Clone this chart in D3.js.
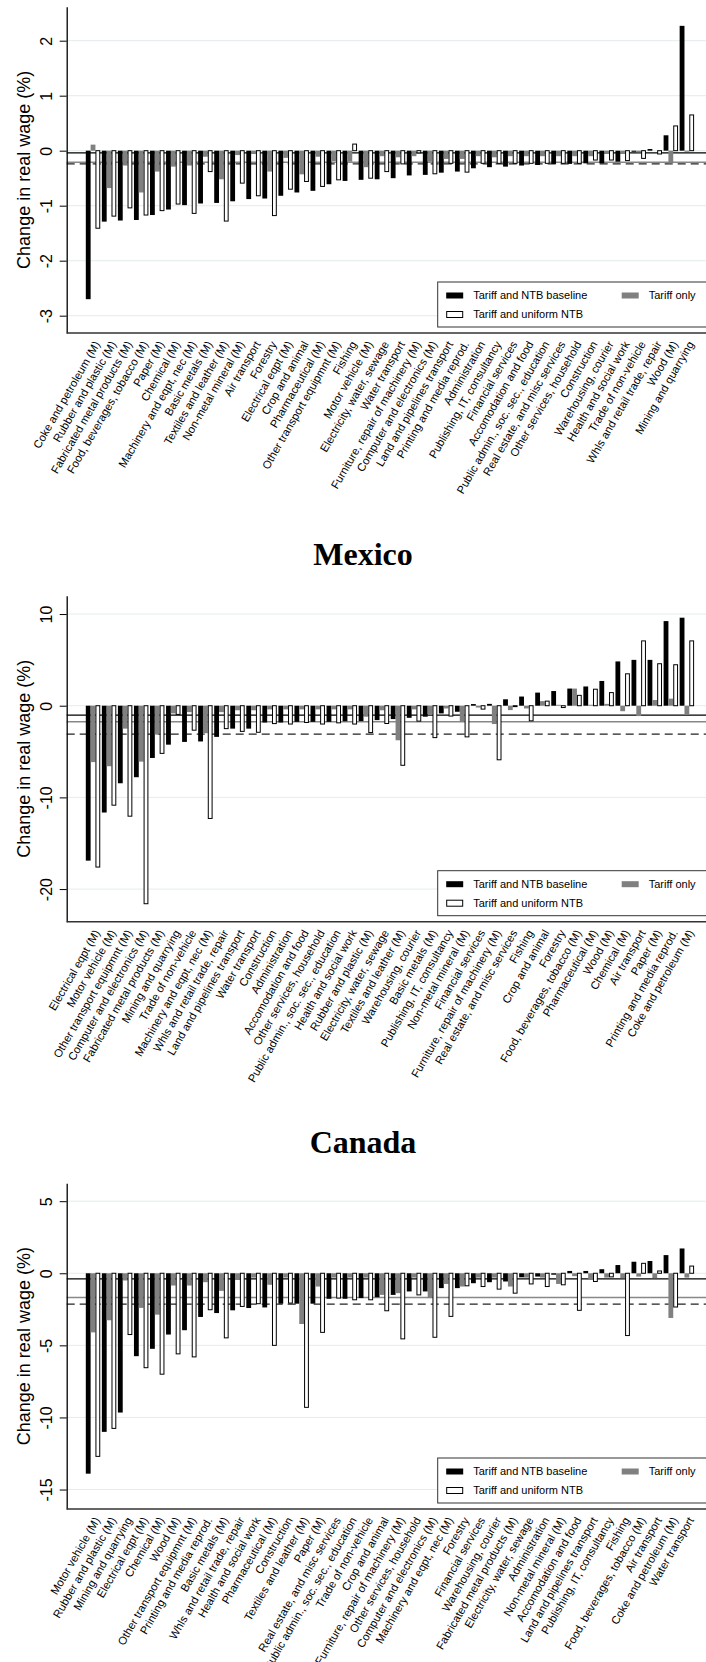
<!DOCTYPE html>
<html>
<head>
<meta charset="utf-8">
<script src="https://cdnjs.cloudflare.com/ajax/libs/d3/7.8.5/d3.min.js"></script>
<style>
  body { margin: 0; background: #fff; }
  text { font-family: "Liberation Sans", Arial, sans-serif; fill: #000; }
</style>
</head>
<body>
<div id="chart"></div>
<script>
// Panel 1 (top, title cut off)
var cats1 = ["Coke and petroleum (M)", "Rubber and plastic (M)", "Fabricated metal products (M)",
  "Food, beverages, tobacco (M)", "Paper (M)", "Chemical (M)", "Machinery and eqpt, nec (M)",
  "Basic metals (M)", "Textiles and leather (M)", "Non-metal mineral (M)", "Air transport", "Forestry",
  "Electrical eqpt (M)", "Crop and animal", "Pharmaceutical (M)", "Other transport equipmnt (M)", "Fishing",
  "Motor vehicle (M)", "Electricity, water, sewage", "Water transport", "Furniture, repair of machinery (M)",
  "Computer and electronics (M)", "Land and pipelines transport", "Printing and media reprod.",
  "Administration", "Publishing, IT, consultancy", "Financial services", "Accomodation and food",
  "Public admin., soc. sec., education", "Real estate, and misc services", "Other services, household",
  "Construction", "Warehousing, courier", "Health and social work", "Trade of non-vehicle",
  "Whls and retail trade, repair", "Wood (M)", "Mining and quarrying"];
var base1 = [-2.70, -1.29, -1.27, -1.26, -1.17, -1.07, -0.99, -0.96, -0.95, -0.92, -0.88, -0.87, -0.82,
  -0.76, -0.73, -0.61, -0.55, -0.53, -0.52, -0.50, -0.45, -0.44, -0.40, -0.38, -0.32, -0.30, -0.29,
  -0.27, -0.26, -0.24, -0.24, -0.23, -0.23, -0.20, -0.02, 0.03, 0.28, 2.27];
var tariff1 = [0.11, -0.68, -0.27, -0.76, -0.38, -0.29, -0.27, -0.11, -0.52, -0.08, -0.05, -0.38, -0.13,
  -0.43, -0.11, -0.19, -0.20, -0.30, -0.10, -0.12, -0.10, -0.20, -0.15, -0.15, -0.10, -0.12, -0.10,
  -0.10, -0.10, -0.10, -0.10, -0.10, -0.05, -0.05, -0.03, 0.00, -0.23, -0.02];
var uniform1 = [-1.41, -1.19, -1.04, -1.17, -1.09, -0.97, -1.14, -0.38, -1.28, -0.59, -0.82, -1.18, -0.70,
  -0.56, -0.65, -0.53, 0.12, -0.50, -0.38, -0.24, -0.04, -0.42, -0.23, -0.39, -0.23, -0.23, -0.23,
  -0.23, -0.23, -0.23, -0.23, -0.17, -0.17, -0.18, -0.14, -0.06, 0.45, 0.65];
var lines1 = [-0.04, -0.21, -0.24];
var ticks1 = [-3, -2, -1, 0, 1, 2];

// Mexico
var cats2 = ["Electrical eqpt (M)", "Motor vehicle (M)", "Other transport equipmnt (M)",
  "Computer and electronics (M)", "Fabricated metal products (M)", "Mining and quarrying",
  "Trade of non-vehicle", "Machinery and eqpt, nec (M)", "Whls and retail trade, repair",
  "Land and pipelines transport", "Water transport", "Construction", "Administration",
  "Accomodation and food", "Other services, household", "Public admin., soc. sec., education",
  "Health and social work", "Rubber and plastic (M)", "Electricity, water, sewage",
  "Textiles and leather (M)", "Warehousing, courier", "Basic metals (M)", "Publishing, IT, consultancy",
  "Non-metal mineral (M)", "Financial services", "Furniture, repair of machinery (M)",
  "Real estate, and misc services", "Fishing", "Crop and animal", "Forestry",
  "Food, beverages, tobacco (M)", "Pharmaceutical (M)", "Wood (M)", "Chemical (M)", "Air transport",
  "Paper (M)", "Printing and media reprod.", "Coke and petroleum (M)"];
var base2 = [-16.9, -11.65, -8.46, -7.8, -5.7, -4.25, -3.95, -3.9, -3.4, -2.5, -2.5, -1.83, -1.83, -1.76,
  -1.76, -1.76, -1.7, -1.68, -1.57, -1.46, -1.32, -1.2, -0.84, -0.66, 0.18, 0.2, 0.7, 1.0, 1.43, 1.6,
  1.87, 2.1, 2.7, 4.83, 5.0, 5.0, 9.23, 9.6];
var tariff2 = [-6.15, -6.6, -2.5, -6.1, -3.15, -0.84, -0.7, -3.0, -0.7, -0.5, -0.5, -0.4, -0.4, -0.4,
  -0.4, -0.4, -0.4, -1.2, -0.5, -3.77, -0.4, -0.9, -0.3, -1.76, -0.2, -2.0, -0.48, -0.3, 0.5, 0.1,
  1.87, 0.1, 0.2, -0.6, -1.13, 0.62, 0.77, -0.95];
var uniform2 = [-17.6, -10.85, -12.05, -21.6, -5.2, -0.95, -2.67, -12.3, -2.5, -2.8, -2.9, -1.95, -2.0,
  -1.83, -2.0, -1.87, -2.0, -2.93, -1.94, -6.5, -1.68, -3.48, -1.13, -3.4, -0.37, -5.9, -0.1, -1.65,
  0.5, -0.2, 1.13, 1.8, 1.43, 3.48, 7.07, 4.58, 4.47, 7.07];
var lines2 = [-1.03, -1.76, -3.1];
var ticks2 = [-20, -10, 0, 10];

// Canada
var cats3 = ["Motor vehicle (M)", "Rubber and plastic (M)", "Mining and quarrying", "Electrical eqpt (M)",
  "Chemical (M)", "Wood (M)", "Other transport equipmnt (M)", "Printing and media reprod.",
  "Basic metals (M)", "Whls and retail trade, repair", "Health and social work", "Pharmaceutical (M)",
  "Construction", "Textiles and leather (M)", "Paper (M)", "Real estate, and misc services",
  "Public admin., soc. sec., education", "Trade of non-vehicle", "Crop and animal",
  "Furniture, repair of machinery (M)", "Other services, household", "Computer and electronics (M)",
  "Machinery and eqpt, nec (M)", "Forestry", "Financial services", "Warehousing, courier",
  "Fabricated metal products (M)", "Electricity, water, sewage", "Administration",
  "Non-metal mineral (M)", "Accomodation and food", "Land and pipelines transport",
  "Publishing, IT, consultancy", "Fishing", "Food, beverages, tobacco (M)", "Air transport",
  "Coke and petroleum (M)", "Water transport"];
var base3 = [-13.9, -11.0, -9.66, -5.75, -5.24, -4.25, -3.95, -3.03, -2.76, -2.57, -2.41, -2.37, -2.11,
  -2.11, -2.11, -1.77, -1.77, -1.72, -1.66, -1.5, -1.26, -1.26, -1.03, -1.03, -0.69, -0.62, -0.57,
  -0.28, -0.23, -0.1, 0.16, 0.16, 0.28, 0.57, 0.8, 0.85, 1.26, 1.72];
var tariff3 = [-4.1, -3.26, -0.5, -2.4, -2.87, -0.85, -0.85, -0.62, -1.22, -0.46, -0.3, -0.8, -0.3, -3.52,
  -0.92, -0.3, -0.3, -0.3, -1.5, -1.38, -0.3, -1.72, -0.74, -0.92, -0.3, -0.3, -0.92, -0.3, -0.3,
  -0.74, -0.2, -0.46, -0.3, -0.34, -0.23, -0.34, -3.1, -0.3];
var uniform3 = [-12.7, -10.76, -4.25, -6.55, -7.0, -5.59, -5.8, -2.53, -4.48, -2.3, -2.11, -5.0, -2.07,
  -9.3, -4.1, -1.72, -1.84, -1.84, -2.6, -4.55, -1.5, -4.44, -2.99, -0.87, -0.92, -1.1, -1.38, -0.74,
  -0.92, -0.8, -2.57, -0.57, -0.25, -4.32, 0.69, 0.16, -2.34, 0.5];
var lines3 = [-0.39, -1.68, -2.14];
var ticks3 = [-15, -10, -5, 0, 5];

var seriesKeys = ["base", "tariff", "uniform"];
var seriesNames = ["Tariff and NTB baseline", "Tariff only", "Tariff and uniform NTB"];
var fills = { base: "#000", tariff: "#808080", uniform: "#fff" };

// Set svg Width and Height
var svgWidth = 706;
var svgHeight = 1662;
var axisX = 66.7;

var svg = d3.select("#chart")
  .append("svg")
  .attr("width", svgWidth)
  .attr("height", svgHeight);

// Panel frames (pixel layout only)
var panels = [
  { title: null, cats: cats1, base: base1, tariff: tariff1, uniform: uniform1, lines: lines1, ticks: ticks1,
    top: 6.7, bottom: 333, domain: [-3.315, 2.618] },
  { title: "Mexico", titleY: 565, cats: cats2, base: base2, tariff: tariff2, uniform: uniform2, lines: lines2,
    ticks: ticks2, top: 595.7, bottom: 921.7, domain: [-23.56, 12.0] },
  { title: "Canada", titleY: 1153, cats: cats3, base: base3, tariff: tariff3, uniform: uniform3, lines: lines3,
    ticks: ticks3, top: 1183.3, bottom: 1509, domain: [-16.35, 6.24] }
];

panels.forEach(drawPanel);

function drawPanel(p) {
  var g = svg.append("g");

  // Step 1: scales
  var x0 = d3.scaleBand()
    .domain(p.cats)
    .range([85, 694.9])
    .paddingInner(0.1)
    .paddingOuter(0.05);
  var x1 = d3.scaleBand()
    .domain(seriesKeys)
    .range([0, x0.bandwidth()]);
  var y = d3.scaleLinear()
    .domain(p.domain)
    .range([p.bottom, p.top]);

  // Step 2: gridlines
  g.selectAll(".grid")
    .data(p.ticks)
    .enter()
    .append("line")
    .attr("x1", axisX)
    .attr("x2", svgWidth)
    .attr("y1", d => y(d))
    .attr("y2", d => y(d))
    .attr("stroke", "#e3ecee")
    .attr("stroke-width", 1);

  // Step 3: average lines
  var lineStyles = [
    { color: "#000", dash: null, w: 1.1 },
    { color: "#888", dash: null, w: 1.5 },
    { color: "#222", dash: "8,5", w: 1.1 }
  ];
  g.selectAll(".avg")
    .data(p.lines)
    .enter()
    .append("line")
    .attr("x1", axisX)
    .attr("x2", svgWidth)
    .attr("y1", d => y(d))
    .attr("y2", d => y(d))
    .attr("stroke", (d, i) => lineStyles[i].color)
    .attr("stroke-width", (d, i) => lineStyles[i].w)
    .attr("stroke-dasharray", (d, i) => lineStyles[i].dash);

  // Step 4: bars
  var rows = p.cats.map(function(c, i) {
    return { cat: c, base: p.base[i], tariff: p.tariff[i], uniform: p.uniform[i] };
  });
  var groups = g.selectAll(".grp")
    .data(rows)
    .enter()
    .append("g")
    .attr("transform", d => `translate(${x0(d.cat)},0)`);
  groups.selectAll("rect")
    .data(d => seriesKeys.map(k => ({ key: k, value: d[k] })))
    .enter()
    .append("rect")
    .attr("x", d => x1(d.key) + (d.key === "uniform" ? 0.5 : 0))
    .attr("width", d => x1.bandwidth() - (d.key === "uniform" ? 1 : 0))
    .attr("y", d => Math.min(y(0), y(d.value)))
    .attr("height", d => Math.abs(y(d.value) - y(0)))
    .attr("fill", d => fills[d.key])
    .attr("stroke", d => d.key === "uniform" ? "#000" : "none")
    .attr("stroke-width", 1);

  // Step 5: axes
  var leftAxis = d3.axisLeft(y)
    .tickValues(p.ticks)
    .tickSize(7)
    .tickSizeOuter(0)
    .tickFormat(d => String(d));
  var ya = g.append("g")
    .attr("transform", `translate(${axisX},0)`)
    .call(leftAxis);
  ya.select(".domain").attr("stroke", "#000").attr("stroke-width", 1.3);
  ya.selectAll(".tick line").attr("stroke", "#000").attr("stroke-width", 1);
  ya.selectAll(".tick text")
    .attr("transform", "rotate(-90)")
    .attr("x", 0)
    .attr("y", -15.2)
    .attr("dy", 0)
    .attr("text-anchor", "middle")
    .style("font-size", "16px")
    .style("font-family", "Liberation Sans, Arial, sans-serif");

  g.append("line")
    .attr("x1", axisX)
    .attr("x2", svgWidth)
    .attr("y1", p.bottom)
    .attr("y2", p.bottom)
    .attr("stroke", "#333")
    .attr("stroke-width", 1.6);

  // category labels
  g.selectAll(".xlab")
    .data(p.cats)
    .enter()
    .append("text")
    .attr("transform", d => `translate(${x0(d) + x0.bandwidth() / 2 + 4},${p.bottom + 9}) rotate(-60)`)
    .attr("text-anchor", "end")
    .attr("dy", "0.35em")
    .style("font-size", "11.3px")
    .text(d => d);

  // y axis title
  g.append("text")
    .attr("transform", `translate(30,${(p.top + p.bottom) / 2}) rotate(-90)`)
    .attr("text-anchor", "middle")
    .style("font-size", "18px")
    .text("Change in real wage (%)");

  // Step 6: panel title
  if (p.title) {
    svg.append("text")
      .attr("x", 363)
      .attr("y", p.titleY)
      .attr("text-anchor", "middle")
      .style("font-family", "Liberation Serif, Times New Roman, serif")
      .style("font-weight", "bold")
      .style("font-size", "32px")
      .text(p.title);
  }

  // Step 7: legend
  var ly = p.bottom - 51;
  var legend = g.append("g").attr("transform", `translate(437.7,${ly})`);
  legend.append("rect")
    .attr("width", 280)
    .attr("height", 45)
    .attr("fill", "#fff")
    .attr("stroke", "#333")
    .attr("stroke-width", 1);
  var items = [
    { key: "base", name: seriesNames[0], x: 8.5, y: 13.5 },
    { key: "tariff", name: seriesNames[1], x: 184, y: 13.5 },
    { key: "uniform", name: seriesNames[2], x: 8.5, y: 32.5 }
  ];
  var li = legend.selectAll(".li")
    .data(items)
    .enter()
    .append("g")
    .attr("transform", d => `translate(${d.x},${d.y})`);
  li.append("rect")
    .attr("x", d => d.key === "uniform" ? 0.5 : 0)
    .attr("y", -3)
    .attr("width", d => d.key === "uniform" ? 16 : 17)
    .attr("height", 6)
    .attr("fill", d => fills[d.key])
    .attr("stroke", d => d.key === "uniform" ? "#000" : "none");
  li.append("text")
    .attr("x", 27)
    .attr("dy", "0.35em")
    .style("font-size", "11px")
    .text(d => d.name);
}
</script>
</body>
</html>
